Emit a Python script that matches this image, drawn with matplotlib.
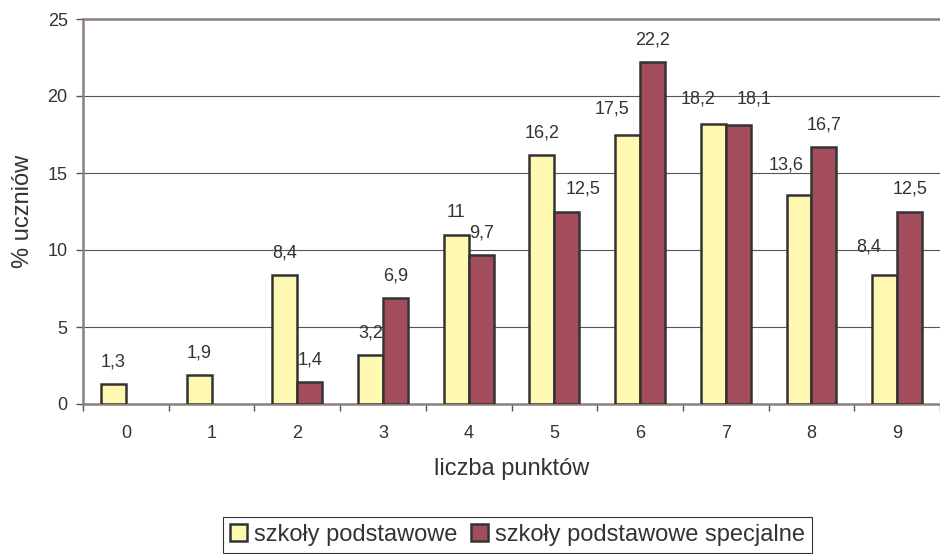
import matplotlib
matplotlib.use("Agg")
import matplotlib.pyplot as plt
import numpy as np

plt.rcParams['font.family'] = ['Liberation Sans', 'DejaVu Sans']

categories = ['0', '1', '2', '3', '4', '5', '6', '7', '8', '9']
podstawowe = [1.3, 1.9, 8.4, 3.2, 11, 16.2, 17.5, 18.2, 13.6, 8.4]
specjalne = [np.nan, np.nan, 1.4, 6.9, 9.7, 12.5, 22.2, 18.1, 16.7, 12.5]
series_names = ['szkoły podstawowe', 'szkoły podstawowe specjalne']

# label nudges (pixels) to mimic the original placement
dx_pod = [0, 0, 0, 0, 0, 0, -16, -15, -13, -16]
dy_pod = [0, 0, 0, 0, 0, 0, 4, 3, 8, 6]
dx_spe = [0, 0, 0, 0, 0, 16, 0, 16, 0, 0]
dy_spe = [0, 0, 0, 0, 0, 0, 0, 4, 0, 0]

W, H = 940, 554
fig = plt.figure(figsize=(W / 100, H / 100), dpi=100)
ax = fig.add_axes([83 / W, (H - 404) / H, (940 - 83) / W, (404 - 19) / H])

yellow = '#FFF8B0'
red = '#A34D5C'
edge = '#333333'
txt = '#333333'
bw = 0.29
x = np.arange(len(categories))

ax.bar(x - bw / 2, podstawowe, bw, color=yellow, edgecolor=edge, linewidth=1.8,
       label=series_names[0], zorder=3)
ax.bar(x + bw / 2, specjalne, bw, color=red, edgecolor=edge, linewidth=1.8,
       label=series_names[1], zorder=3)

def fmt(v):
    s = ('%g' % v).replace('.', ',')
    return s

for i in range(len(x)):
    v = podstawowe[i]
    if not np.isnan(v):
        ax.annotate(fmt(v), (x[i] - bw / 2, v), xytext=(dx_pod[i] * 0.72, (22 + dy_pod[i]) * 0.72),
                    textcoords='offset points', ha='center', va='center',
                    fontsize=13, color=txt, zorder=4)
    v = specjalne[i]
    if not np.isnan(v):
        ax.annotate(fmt(v), (x[i] + bw / 2, v), xytext=(dx_spe[i] * 0.72, (22 + dy_spe[i]) * 0.72),
                    textcoords='offset points', ha='center', va='center',
                    fontsize=13, color=txt, zorder=4)

ax.set_xlim(-0.5, 9.35)
ax.set_ylim(0, 25)
ax.set_yticks([0, 5, 10, 15, 20, 25])
ax.yaxis.grid(True, color='#555555', linewidth=0.8, zorder=0)
ax.set_axisbelow(True)

ax.set_xticks(np.arange(-0.5, 10, 1))
ax.set_xticklabels([])
ax.set_xticks(x, minor=True)
ax.set_xticklabels(categories, minor=True)
ax.tick_params(axis='x', which='major', length=5, width=1, color='#555555', direction='out')
ax.tick_params(axis='x', which='minor', length=0, pad=15, labelsize=13, labelcolor=txt)
ax.tick_params(axis='y', length=5, width=1, color='#555555', direction='out', pad=6,
               labelsize=13, labelcolor=txt)

spc = '#8a807c'
for s in ['left', 'top', 'bottom']:
    ax.spines[s].set_color(spc)
    ax.spines[s].set_linewidth(1.8)
ax.spines['right'].set_visible(False)

ax.set_xlabel('liczba punktów', fontsize=17, color=txt, labelpad=12)
ax.set_ylabel('% uczniów', fontsize=17, color=txt, labelpad=10)

leg = fig.legend(loc='center', bbox_to_anchor=(517.5 / W, (H - 535) / H), ncol=2,
                 fontsize=17, frameon=True, fancybox=False, edgecolor='#000000',
                 handlelength=0.72, handleheight=0.72, handletextpad=0.3,
                 columnspacing=0.55, borderpad=0.3, borderaxespad=0)
leg.get_frame().set_linewidth(0.8)
for t in leg.get_texts():
    t.set_color(txt)

fig.savefig('out.png', dpi=100)
